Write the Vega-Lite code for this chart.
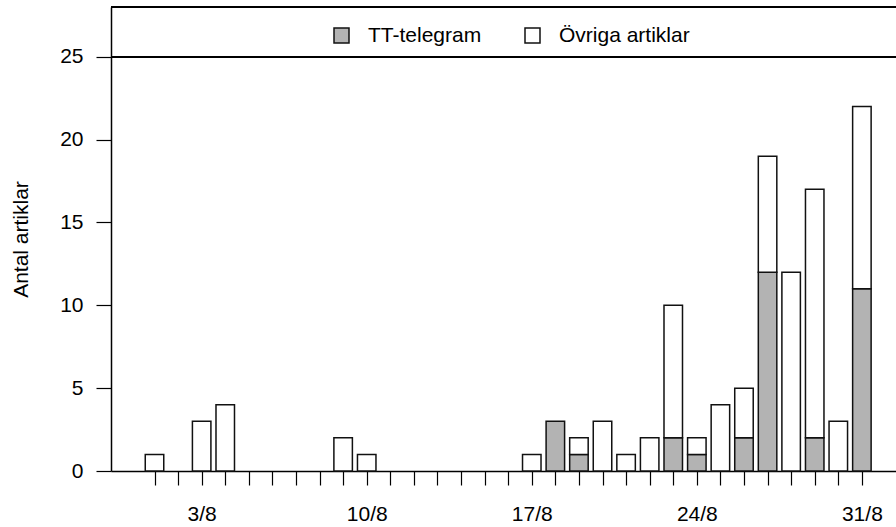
{
  "$schema": "https://vega.github.io/schema/vega-lite/v6.json",
  "autosize": {"type": "none"},
  "padding": {"left": 111, "top": 7, "right": 0, "bottom": 56},
  "width": 785,
  "height": 464,
  "background": "white",
  "config": {
    "view": {"stroke": null},
    "font": "Liberation Sans",
    "axis": {"labelFont": "Liberation Sans", "titleFont": "Liberation Sans", "labelColor": "#000", "titleColor": "#000", "domainColor": "#000", "tickColor": "#000", "domainWidth": 1.5, "tickWidth": 1.2, "grid": false},
    "legend": {"labelFont": "Liberation Sans"}
  },
  "data": {
    "values": [
      {"dag": 1, "kategori": "Övriga artiklar", "antal": 1},
      {"dag": 3, "kategori": "Övriga artiklar", "antal": 3},
      {"dag": 4, "kategori": "Övriga artiklar", "antal": 4},
      {"dag": 9, "kategori": "Övriga artiklar", "antal": 2},
      {"dag": 10, "kategori": "Övriga artiklar", "antal": 1},
      {"dag": 17, "kategori": "Övriga artiklar", "antal": 1},
      {"dag": 18, "kategori": "TT-telegram", "antal": 3},
      {"dag": 19, "kategori": "TT-telegram", "antal": 1},
      {"dag": 19, "kategori": "Övriga artiklar", "antal": 1},
      {"dag": 20, "kategori": "Övriga artiklar", "antal": 3},
      {"dag": 21, "kategori": "Övriga artiklar", "antal": 1},
      {"dag": 22, "kategori": "Övriga artiklar", "antal": 2},
      {"dag": 23, "kategori": "TT-telegram", "antal": 2},
      {"dag": 23, "kategori": "Övriga artiklar", "antal": 8},
      {"dag": 24, "kategori": "TT-telegram", "antal": 1},
      {"dag": 24, "kategori": "Övriga artiklar", "antal": 1},
      {"dag": 25, "kategori": "Övriga artiklar", "antal": 4},
      {"dag": 26, "kategori": "TT-telegram", "antal": 2},
      {"dag": 26, "kategori": "Övriga artiklar", "antal": 3},
      {"dag": 27, "kategori": "TT-telegram", "antal": 12},
      {"dag": 27, "kategori": "Övriga artiklar", "antal": 7},
      {"dag": 28, "kategori": "Övriga artiklar", "antal": 12},
      {"dag": 29, "kategori": "TT-telegram", "antal": 2},
      {"dag": 29, "kategori": "Övriga artiklar", "antal": 15},
      {"dag": 30, "kategori": "Övriga artiklar", "antal": 3},
      {"dag": 31, "kategori": "TT-telegram", "antal": 11},
      {"dag": 31, "kategori": "Övriga artiklar", "antal": 11}
    ]
  },
  "layer": [
    {
      "mark": {"type": "bar", "width": 18.5, "stroke": "#111", "strokeWidth": 1.5},
      "encoding": {
        "x": {
          "field": "dag", "type": "quantitative",
          "scale": {"domain": [-0.633, 32.235], "nice": false, "zero": false},
          "axis": {
            "title": null,
            "values": [1,2,3,4,5,6,7,8,9,10,11,12,13,14,15,16,17,18,19,20,21,22,23,24,25,26,27,28,29,30,31],
            "labelExpr": "(datum.value - 3) % 7 == 0 ? datum.value + '/8' : ''",
            "labelOverlap": false,
            "labelFlush": false,
            "labelBound": false,
            "tickSize": 14,
            "labelPadding": 18,
            "labelFontSize": 21
          }
        },
        "y": {
          "field": "antal", "type": "quantitative", "stack": "zero",
          "scale": {"domain": [0, 28], "nice": false},
          "axis": {
            "title": "Antal artiklar",
            "values": [0, 5, 10, 15, 20, 25],
            "tickSize": 15,
            "labelPadding": 13,
            "labelFontSize": 21,
            "titleFontSize": 21,
            "titleFontWeight": "normal",
            "titlePadding": 28
          }
        },
        "order": {"field": "kategori", "sort": "ascending"},
        "color": {
          "field": "kategori", "type": "nominal",
          "scale": {"domain": ["TT-telegram", "Övriga artiklar"], "range": ["#b3b3b3", "#ffffff"]},
          "legend": {
            "title": null,
            "orient": "none",
            "direction": "horizontal",
            "legendX": 220,
            "legendY": 18,
            "symbolType": "square",
            "symbolSize": 225,
            "symbolStrokeColor": "#111",
            "symbolStrokeWidth": 1.5,
            "symbolOpacity": 1,
            "labelFontSize": 21,
            "labelOffset": 16,
            "columnPadding": 40,
            "labelColor": "#000"
          }
        }
      }
    },
    {
      "mark": {"type": "rule", "color": "#000", "strokeWidth": 1.5},
      "encoding": {"y": {"datum": 25}}
    },
    {
      "mark": {"type": "rule", "color": "#000", "strokeWidth": 1.5},
      "encoding": {"y": {"datum": 28}}
    }
  ]
}
